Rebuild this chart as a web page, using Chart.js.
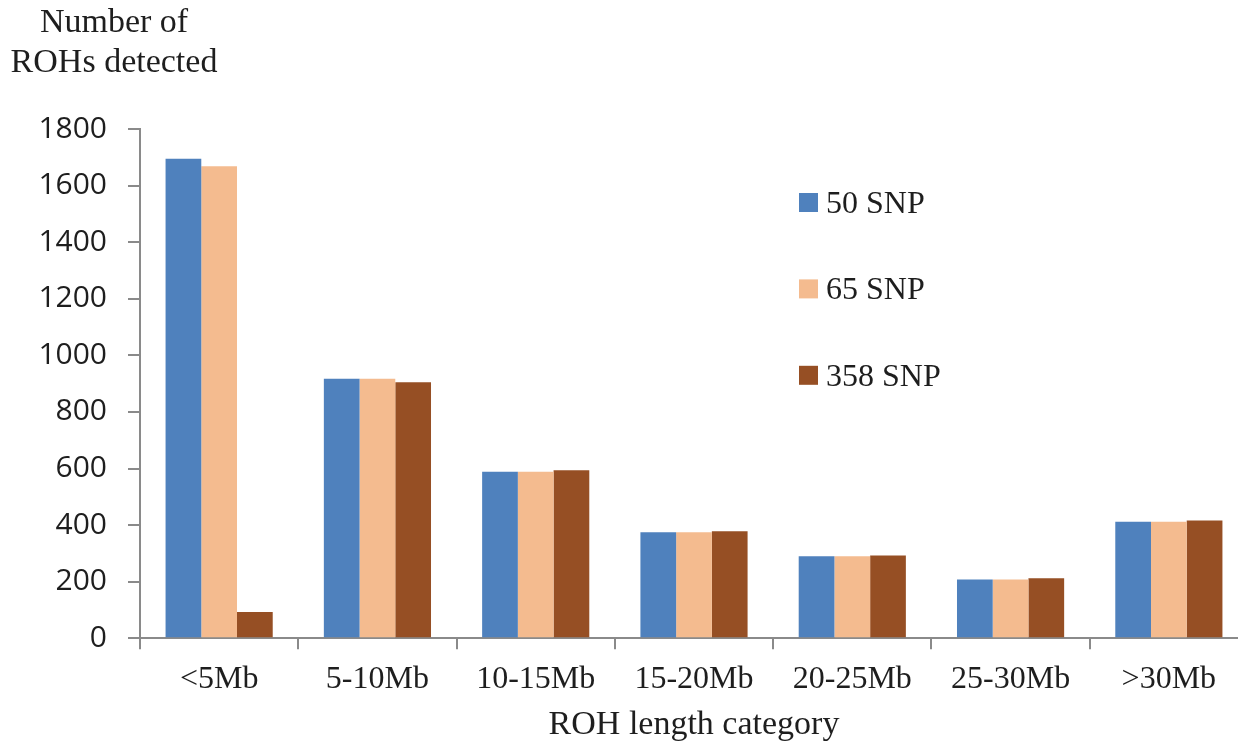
<!DOCTYPE html>
<html>
<head>
<meta charset="utf-8">
<script src="https://cdn.jsdelivr.net/npm/chart.js@4/dist/chart.umd.min.js"></script>
<style>
  html, body { margin: 0; padding: 0; background: #ffffff; overflow: hidden; }
  #wrap { width: 1238px; height: 747px; overflow: hidden; }
  canvas { display: block; }
</style>
</head>
<body>
<div id="wrap"><canvas id="c" width="1248" height="747"></canvas></div>
<script>
// ROH counts per length class, for three minimum-SNP thresholds
const categories = ['<5Mb', '5-10Mb', '10-15Mb', '15-20Mb', '20-25Mb', '25-30Mb', '>30Mb'];
const snp50  = [1695, 917, 589, 375, 290, 208, 412];
const snp65  = [1668, 917, 589, 375, 290, 208, 412];
const snp358 = [93, 905, 594, 378, 293, 212, 416];
const seriesLabels = ['50 SNP', '65 SNP', '358 SNP'];
const seriesColors = ['#4F81BD', '#F4BB8F', '#964F24'];
const yTicks = [0, 200, 400, 600, 800, 1000, 1200, 1400, 1600, 1800];
const yTitleLines = ['Number of', 'ROHs detected'];
const xTitle = 'ROH length category';

const SERIF = '"Liberation Serif", "Times New Roman", serif';
const SANS = '"Open Sans", "Liberation Sans", sans-serif';
const AXIS = '#8a8a8a';
const TEXT = '#1e1e1e';

// y-axis caption in the top-left corner
const yCaption = {
  id: 'yCaption',
  afterDraw(chart) {
    const ctx = chart.ctx;
    ctx.save();
    ctx.fillStyle = TEXT;
    ctx.font = '34px ' + SERIF;
    ctx.textAlign = 'center';
    ctx.textBaseline = 'alphabetic';
    yTitleLines.forEach((t, i) => ctx.fillText(t, 114, 32 + i * 40));
    ctx.restore();
  }
};

// vertical legend placed inside the plot area
const innerLegend = {
  id: 'innerLegend',
  afterDraw(chart) {
    const ctx = chart.ctx;
    ctx.save();
    ctx.font = '32px ' + SERIF;
    ctx.textAlign = 'left';
    ctx.textBaseline = 'middle';
    chart.data.datasets.forEach((ds, i) => {
      const cy = 202.5 + i * 86.4;
      ctx.fillStyle = ds.backgroundColor;
      ctx.fillRect(799, cy - 9.5, 19, 19);
      ctx.fillStyle = TEXT;
      ctx.fillText(ds.label, 826, cy + 2);
    });
    ctx.restore();
  }
};

new Chart(document.getElementById('c'), {
  type: 'bar',
  data: {
    labels: categories,
    datasets: [snp50, snp65, snp358].map((vals, i) => ({
      label: seriesLabels[i],
      data: vals,
      backgroundColor: seriesColors[i],
      borderWidth: 0,
      categoryPercentage: 0.677,
      barPercentage: 1.0
    }))
  },
  options: {
    responsive: false,
    animation: false,
    devicePixelRatio: 1,
    layout: { padding: { top: 129, right: 0, bottom: 0, left: 0 } },
    plugins: {
      legend: { display: false },
      tooltip: { enabled: false },
      title: { display: false }
    },
    scales: {
      x: {
        offset: true,
        grid: {
          offset: true,
          drawOnChartArea: false,
          drawTicks: true,
          tickLength: 11,
          color: AXIS,
          lineWidth: 2
        },
        border: { display: true, color: AXIS, width: 2 },
        ticks: {
          color: TEXT,
          font: { family: SERIF, size: 32 },
          padding: 11,
          maxRotation: 0,
          autoSkip: false
        },
        title: {
          display: true,
          text: xTitle,
          color: TEXT,
          font: { family: SERIF, size: 34, lineHeight: 1 },
          padding: { top: 0, bottom: 5 }
        },
        afterFit(scale) { scale.height = 747 - 638.3; }
      },
      y: {
        min: 0,
        max: 1800,
        afterBuildTicks(scale) { scale.ticks = yTicks.map(v => ({ value: v })); },
        grid: {
          drawOnChartArea: false,
          drawTicks: true,
          tickLength: 12,
          color: AXIS,
          lineWidth: 2
        },
        border: { display: true, color: AXIS, width: 2 },
        ticks: {
          color: TEXT,
          font: { family: SANS, size: 30 },
          padding: 21,
          callback: (v) => String(v)
        },
        afterFit(scale) { scale.width = 140; }
      }
    }
  },
  plugins: [yCaption, innerLegend]
});
</script>
</body>
</html>
